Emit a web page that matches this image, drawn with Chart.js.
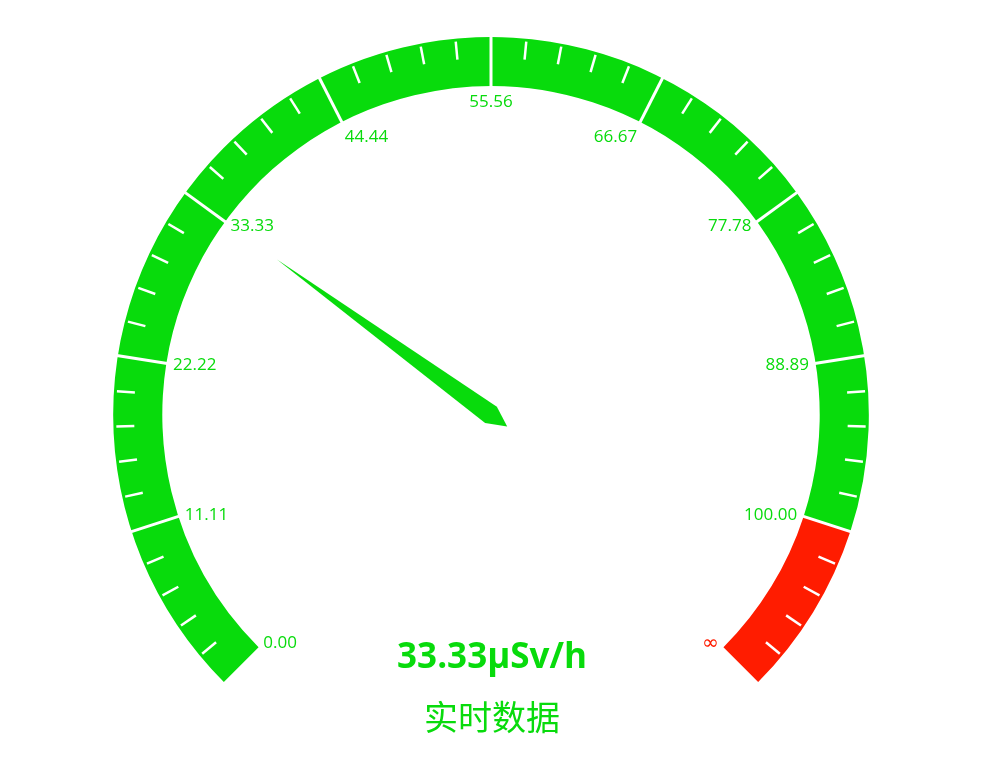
<!DOCTYPE html>
<html><head><meta charset="utf-8">
<script src="https://cdn.jsdelivr.net/npm/chart.js@4.4.1/dist/chart.umd.min.js"></script>
<style>html,body{margin:0;padding:0;background:#fff;overflow:hidden}#wrap{width:984px;height:757px;position:relative}</style>
</head><body><div id="wrap"><canvas id="c"></canvas></div>
<script>
// ---- data ----
const tickLabels = ['0.00','11.11','22.22','33.33','44.44','55.56','66.67','77.78','88.89','100.00','∞'];
const bandDivisions = [9, 1];            // major divisions per colour band
const bandColors = ['#08DB0C', '#FF1C00'];
const minorPerDivision = 5;
const gaugeValue = 33.33;
const gaugeFiniteMax = 100;              // value at the end of the first band
const valueUnit = 'μSv/h';
const gaugeTitle = '实时数据';

const FONT = '"Open Sans","Noto Sans CJK SC",sans-serif';
const totalDiv = bandDivisions.reduce((a, b) => a + b, 0);

const gaugePlugin = {
  id: 'gaugeDecor',
  afterDatasetsDraw(chart) {
    const ctx = chart.ctx;
    const meta = chart.getDatasetMeta(0);
    const a0 = meta.data[0], aL = meta.data[meta.data.length - 1];
    const cx = a0.x, cy = a0.y, R = a0.outerRadius, r = a0.innerRadius;
    const start = a0.startAngle, end = aL.endAngle;
    const angOf = d => start + (end - start) * d / totalDiv;
    ctx.save();
    ctx.strokeStyle = '#fff';
    ctx.lineCap = 'butt';
    // split lines
    ctx.lineWidth = 3;
    for (let d = 1; d < totalDiv; d++) {
      const a = angOf(d), c = Math.cos(a), s = Math.sin(a);
      ctx.beginPath();
      ctx.moveTo(cx + c * (r - 1), cy + s * (r - 1));
      ctx.lineTo(cx + c * (R + 1), cy + s * (R + 1));
      ctx.stroke();
    }
    // minor ticks
    ctx.lineWidth = 2.5;
    for (let d = 0; d < totalDiv; d++) {
      for (let k = 1; k < minorPerDivision; k++) {
        const a = angOf(d + k / minorPerDivision), c = Math.cos(a), s = Math.sin(a);
        ctx.beginPath();
        ctx.moveTo(cx + c * (R - 3), cy + s * (R - 3));
        ctx.lineTo(cx + c * (R - 21), cy + s * (R - 21));
        ctx.stroke();
      }
    }
    // labels
    const dist = R * 0.148;
    for (let i = 0; i < tickLabels.length; i++) {
      const a = angOf(i), ux = Math.cos(a), uy = Math.sin(a);
      const px = cx + ux * (R - dist), py = cy + uy * (R - dist);
      ctx.textAlign = ux < -0.4 ? 'left' : (ux > 0.4 ? 'right' : 'center');
      ctx.textBaseline = uy < -0.8 ? 'top' : (uy > 0.8 ? 'bottom' : 'middle');
      let band = 0, acc = 0;
      for (let b = 0; b < bandDivisions.length; b++) { acc += bandDivisions[b]; if (i <= acc) { band = b; break; } }
      ctx.fillStyle = bandColors[band];
      ctx.font = (tickLabels[i] === '∞' ? '20px "DejaVu Sans",sans-serif' : '17px ' + FONT);
      ctx.fillText(tickLabels[i], px, py + 1);
    }
    // pointer
    const pa = angOf(gaugeValue / gaugeFiniteMax * bandDivisions[0]);
    const len = R * 0.7, w = 10;
    const tx = cx - Math.cos(pa) * w * 2, ty = cy - Math.sin(pa) * w * 2;
    const pp = pa - Math.PI / 2;
    ctx.fillStyle = bandColors[0];
    ctx.beginPath();
    ctx.moveTo(tx, ty);
    ctx.lineTo(cx + Math.cos(pp) * w, cy + Math.sin(pp) * w);
    ctx.lineTo(cx + Math.cos(pa) * len, cy + Math.sin(pa) * len);
    ctx.lineTo(cx - Math.cos(pp) * w, cy - Math.sin(pp) * w);
    ctx.closePath();
    ctx.fill();
    // detail texts
    ctx.textAlign = 'center';
    ctx.textBaseline = 'middle';
    ctx.fillStyle = bandColors[0];
    ctx.font = 'bold 35px ' + FONT;
    ctx.fillText(gaugeValue.toFixed(2) + valueUnit, cx + 1, cy + R * 0.643);
    ctx.font = '34px "Noto Sans CJK SC",sans-serif';
    ctx.fillText(gaugeTitle, cx + 1, cy + R * 0.8);
    ctx.restore();
  }
};

new Chart(document.getElementById('c'), {
  type: 'doughnut',
  data: {
    labels: bandColors.map((c, i) => 'band' + i),
    datasets: [{ data: bandDivisions, backgroundColor: bandColors, borderWidth: 0, hoverOffset: 0 }]
  },
  options: {
    responsive: true, maintainAspectRatio: false, animation: false,
    rotation: -135, circumference: 270, cutout: '87%',
    layout: { padding: { left: 113, right: 115, top: 37, bottom: 75 } },
    plugins: { legend: { display: false }, tooltip: { enabled: false } },
    events: []
  },
  plugins: [gaugePlugin]
});
</script></body></html>
